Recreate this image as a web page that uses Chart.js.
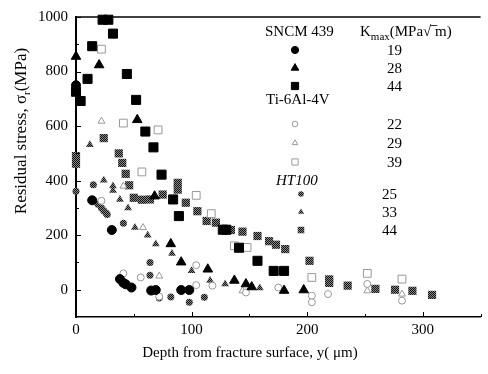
<!DOCTYPE html>
<html>
<head>
<meta charset="utf-8">
<script src="https://cdn.jsdelivr.net/npm/chart.js@4/dist/chart.umd.min.js"></script>
<style>
  body { margin: 0; background: #fff; }
  canvas { display: block; }
</style>
</head>
<body>
<canvas id="stressChart" width="488" height="374"></canvas>
<script>
// depth (um), residual stress (MPa)
const sncm19 = [[0,750],[14,328],[31,219],[38,39],[41,25],[43,20],[48,8],[65,-3],[69,-1],[91,-1],[98,-1]];
const sncm28 = [[0,855],[20,824],[53,623],[68,343],[82,168],[91,101],[114,75],[137,34],[147,21],[152,10],[180,-3],[197,-1]];
const sncm44 = [[0,726],[4,692],[10,773],[14,893],[23,990],[28,990],[32,939],[44,791],[52,696],[60,580],[67,522],[74,422],
                [84,331],[89,270],[127,220],[130,220],[141,154],[157,106],[171,69],[180,69]];
const ti22 = [[22,326],[41,60],[56,45],[72,-25],[104,90],[104,17],[118,15],[147,-10],[175,8],[204,-22],[204,-46],[218,-16],[252,21],[282,-40]];
const ti29 = [[22,618],[41,380],[58,228],[72,50],[144,-4],[252,-4],[282,-16]];
const ti39 = [[22,882],[41,611],[57,432],[71,586],[104,346],[117,279],[137,161],[148,155],[204,45],[252,60],[282,39]];
const ht25 = [[0,361],[15,385],[19,313],[22,300],[24,290],[26,281],[27,276],[41,244],[64,100],[64,53],[72,-30],[82,-27],[98,-46],[111,-28]];
const ht33 = [[12,532],[24,401],[32,380],[32,364],[38,331],[45,300],[51,228],[62,200],[69,168],[83,133],[100,70],[116,34],[129,21],[159,6]];
const ht44 = [[0,490],[0,462],[24,556],[37,500],[40,465],[43,425],[46,383],[50,337],[57,330],[64,331],[75,349],[88,392],[88,367],
              [95,319],[105,288],[113,252],[121,246],[134,219],[144,213],[157,197],[167,178],[173,165],[181,149],[202,106],
              [219,38],[219,25],[235,15],[259,3],[276,0],[291,-4],[308,-19]];

const xTicks = [0, 100, 200, 300];
const yTicks = [0, 200, 400, 600, 800, 1000];
const kSncm = ['19', '28', '44'];
const kTi = ['22', '29', '39'];
const kHt = ['25', '33', '44'];

const canvas = document.getElementById('stressChart');
const ctx = canvas.getContext('2d');
const serif = "'Liberation Serif', 'DejaVu Serif', serif";

function checker(dark, light) {
  const c = document.createElement('canvas');
  c.width = 2; c.height = 2;
  const g = c.getContext('2d');
  g.fillStyle = light; g.fillRect(0, 0, 2, 2);
  g.fillStyle = dark; g.fillRect(0, 0, 1, 1); g.fillRect(1, 1, 1, 1);
  return ctx.createPattern(c, 'repeat');
}
const hatch = checker('#111', '#888');

function pts(arr) { return arr.map(p => ({ x: p[0], y: p[1] })); }

const styles = [
  { data: sncm19, pointStyle: 'circle', radius: 4.5, bg: '#000', border: '#000', bw: 1 },
  { data: sncm28, pointStyle: 'triangle', radius: 5.5, bg: '#000', border: '#000', bw: 1 },
  { data: sncm44, pointStyle: 'rect', radius: 6.4, bg: '#000', border: '#000', bw: 1 },
  { data: ti22, pointStyle: 'circle', radius: 3.5, bg: '#fff', border: '#999', bw: 1 },
  { data: ti29, pointStyle: 'triangle', radius: 4, bg: '#fff', border: '#999', bw: 1 },
  { data: ti39, pointStyle: 'rect', radius: 5.5, bg: '#fff', border: '#999', bw: 1 },
  { data: ht25, pointStyle: 'circle', radius: 3.5, bg: hatch, border: '#555', bw: 0 },
  { data: ht33, pointStyle: 'triangle', radius: 4.5, bg: hatch, border: '#555', bw: 0 },
  { data: ht44, pointStyle: 'rect', radius: 5.8, bg: hatch, border: '#555', bw: 0 }
];

const frame = {
  id: 'frame',
  afterDraw(chart) {
    const c = chart.ctx;
    const a = chart.chartArea;
    const xs = chart.scales.x, ys = chart.scales.y;
    c.save();
    c.strokeStyle = '#000';
    c.lineWidth = 1.5;
    c.beginPath();
    c.moveTo(a.left, a.top); c.lineTo(a.right, a.top);
    c.stroke();
    // inward ticks
    c.lineWidth = 1;
    c.beginPath();
    for (let v = 0; v <= 1000; v += 100) {
      const y = Math.round(ys.getPixelForValue(v)) + 0.5;
      c.moveTo(a.left, y); c.lineTo(a.left + (v % 200 === 0 ? 5 : 3), y);
    }
    for (let v = 50; v <= 350; v += 50) {
      const x = Math.round(xs.getPixelForValue(v)) + 0.5;
      c.moveTo(x, a.bottom); c.lineTo(x, a.bottom - (v % 100 === 0 ? 5 : 3));
    }
    c.stroke();

    c.fillStyle = '#000';
    c.textBaseline = 'middle';
    // axis titles
    c.font = '15px ' + serif;
    c.textAlign = 'center';
    c.fillText('Depth from fracture surface, y( \u03bcm)', 250, 353);
    c.save();
    c.translate(22, 131);
    c.rotate(-Math.PI / 2);
    const p1 = 'Residual stress, \u03c3', p2 = '(MPa)';
    c.font = '17px ' + serif;
    const w1 = c.measureText(p1).width, w2 = c.measureText(p2).width;
    c.font = '11px ' + serif;
    const ws = c.measureText('r').width;
    const x0 = -(w1 + ws + w2) / 2;
    c.textAlign = 'left';
    c.font = '17px ' + serif;
    c.fillText(p1, x0, 0);
    c.font = '11px ' + serif;
    c.fillText('r', x0 + w1, 5);
    c.font = '17px ' + serif;
    c.fillText(p2, x0 + w1 + ws, 0);
    c.restore();

    // legend
    c.textAlign = 'left';
    c.font = '15px ' + serif;
    c.fillText('SNCM 439', 265, 32);
    c.fillText('K', 360, 32);
    const kw = c.measureText('K').width;
    c.font = '11px ' + serif;
    c.fillText('max', 360 + kw, 37);
    const mw = c.measureText('max').width;
    c.font = '15px ' + serif;
    const pre = '(MPa\u221a';
    const sx = 360 + kw + mw;
    c.fillText(pre, sx, 32);
    const pw = c.measureText(pre).width;
    c.fillText(' m)', sx + pw, 32);
    c.lineWidth = 0.8;
    c.beginPath();
    c.moveTo(sx + pw - 1, 25.5); c.lineTo(sx + pw + 6, 25.5);
    c.stroke();
    c.fillText('Ti-6Al-4V', 266, 100);
    c.font = 'italic 15px ' + serif;
    c.fillText('HT100', 276, 181);

    const rows = [
      { s: 0, x: 295, y: 50, t: kSncm[0], tx: 387 },
      { s: 1, x: 295, y: 68, t: kSncm[1], tx: 387 },
      { s: 2, x: 295, y: 86, t: kSncm[2], tx: 387 },
      { s: 3, x: 295, y: 124, t: kTi[0], tx: 387 },
      { s: 4, x: 295, y: 143, t: kTi[1], tx: 387 },
      { s: 5, x: 295, y: 162, t: kTi[2], tx: 387 },
      { s: 6, x: 301, y: 194, t: kHt[0], tx: 382 },
      { s: 7, x: 301, y: 212, t: kHt[1], tx: 382 },
      { s: 8, x: 301, y: 230, t: kHt[2], tx: 382 }
    ];
    c.font = '15px ' + serif;
    rows.forEach(r => {
      const st = styles[r.s];
      c.save();
      c.fillStyle = st.bg;
      c.strokeStyle = st.border;
      c.lineWidth = st.bw;
      Chart.helpers.drawPoint(c, { pointStyle: st.pointStyle, radius: st.radius * 0.8, rotation: 0, borderWidth: st.bw }, r.x, r.y);
      c.restore();
      c.fillStyle = '#000';
      c.fillText(r.t, r.tx, r.y + 1);
    });
    c.restore();
  }
};

new Chart(ctx, {
  type: 'scatter',
  data: {
    datasets: styles.map(s => ({
      data: pts(s.data),
      pointStyle: s.pointStyle,
      pointRadius: s.radius,
      pointBackgroundColor: s.bg,
      pointBorderColor: s.border,
      pointBorderWidth: s.bw,
      clip: false
    }))
  },
  options: {
    responsive: false,
    animation: false,
    devicePixelRatio: 1,
    layout: { padding: { top: 15, right: 0, left: 0, bottom: 0 } },
    plugins: { legend: { display: false }, tooltip: { enabled: false } },
    scales: {
      x: {
        min: 0, max: 350,
        afterBuildTicks: s => { s.ticks = xTicks.map(v => ({ value: v })); },
        afterFit: s => { s.height = 57; },
        grid: { display: false, drawTicks: false },
        border: { display: true, color: '#000', width: 1.5 },
        ticks: { color: '#000', font: { family: serif, size: 15 }, padding: 4, maxRotation: 0, callback: v => String(v) }
      },
      y: {
        min: -100, max: 1000,
        afterBuildTicks: s => { s.ticks = yTicks.map(v => ({ value: v })); },
        afterFit: s => { s.width = 76; },
        grid: { display: false, drawTicks: false },
        border: { display: true, color: '#000', width: 2 },
        ticks: { color: '#000', font: { family: serif, size: 15 }, padding: 8, callback: v => String(v) }
      }
    }
  },
  plugins: [frame]
});
</script>
</body>
</html>
